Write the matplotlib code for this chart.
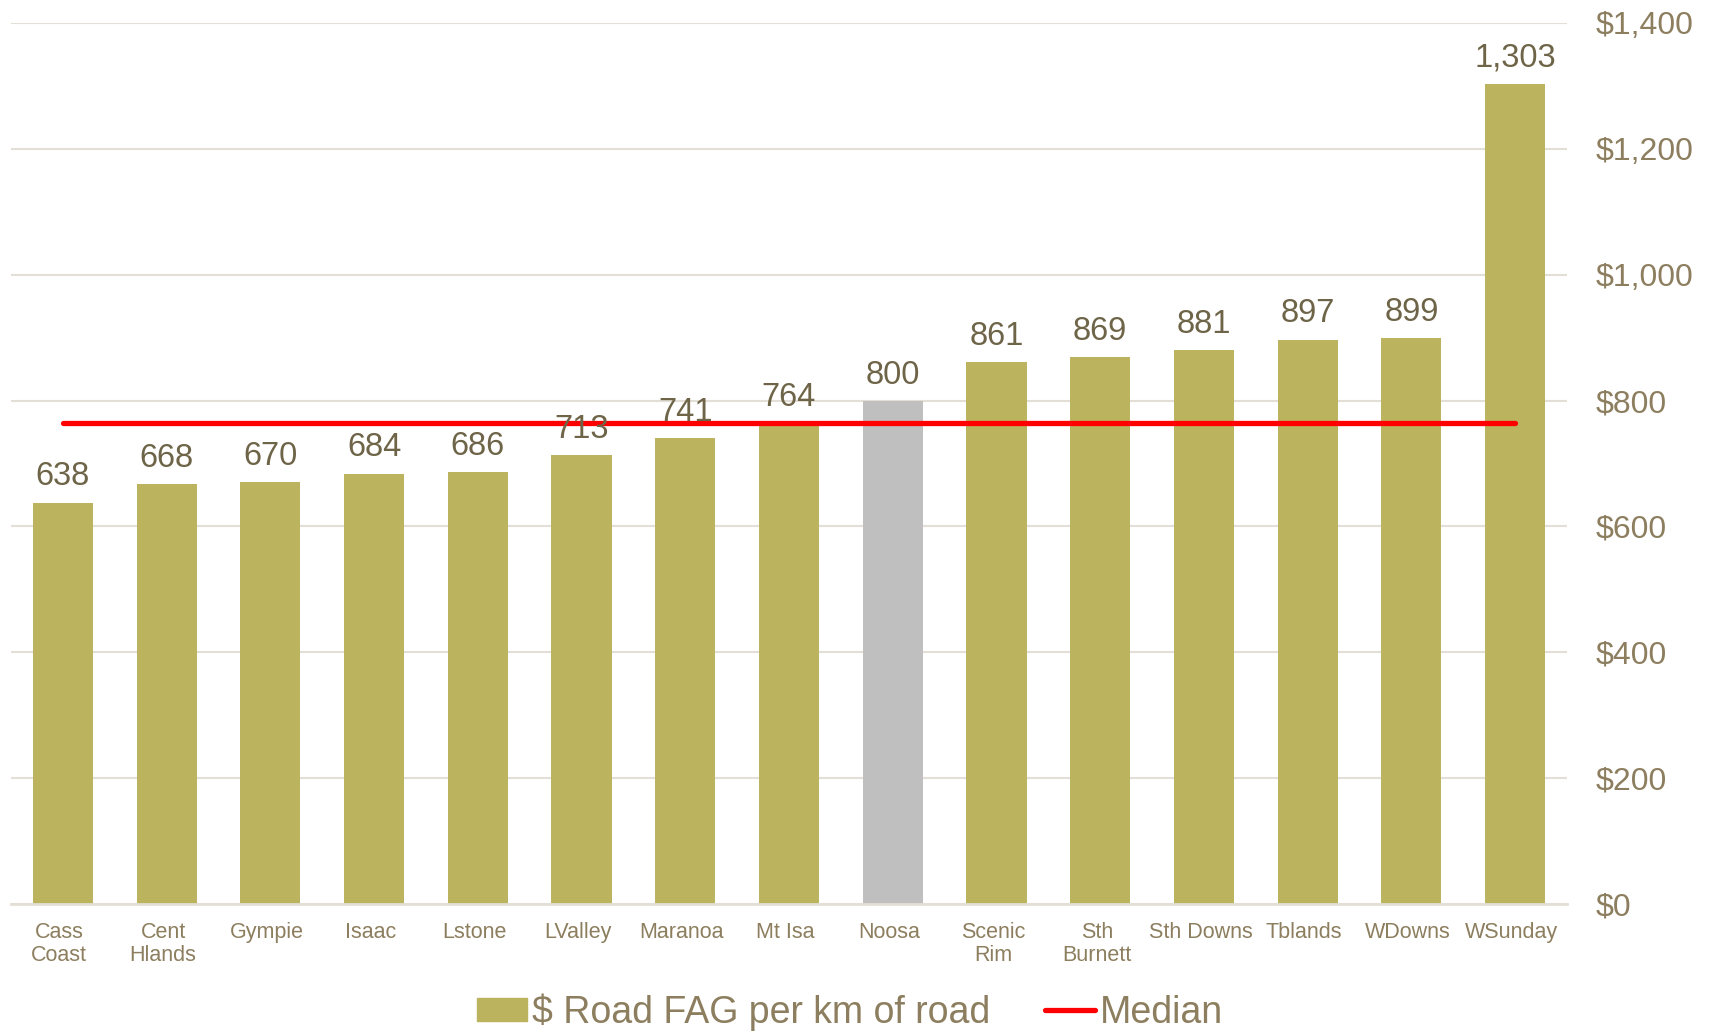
import numpy as np
import matplotlib.pyplot as plt
import matplotlib.transforms as mtransforms
from matplotlib.ticker import FuncFormatter
from matplotlib.patches import Patch
from matplotlib.lines import Line2D

plt.rcParams['font.family'] = ['Liberation Sans', 'DejaVu Sans']

councils = ['Cass\nCoast', 'Cent\nHlands', 'Gympie', 'Isaac', 'Lstone', 'LValley', 'Maranoa',
            'Mt Isa', 'Noosa', 'Scenic\nRim', 'Sth\nBurnett', 'Sth Downs', 'Tblands', 'WDowns', 'WSunday']
fag_per_km = [638, 668, 670, 684, 686, 713, 741, 764, 800, 861, 869, 881, 897, 899, 1303]
median_val = 764
highlight = 'Noosa'

olive = '#BBB35E'
grey = '#BFBFBF'
txt = '#8C7E5E'
lbl = '#6E6448'

fig = plt.figure(figsize=(17.1, 10.31), dpi=100)
ax = fig.add_axes([11/1710, 1-904/1031, (1567-11)/1710, (904-23)/1031])

x = np.arange(len(councils))
colors = [grey if c == highlight else olive for c in councils]
ax.bar(x, fag_per_km, width=0.58, color=colors, zorder=2)
ax.plot([x[0], x[-1]], [median_val, median_val], color='#FF0000', lw=3.8, solid_capstyle='round', zorder=3)

for xi, v in zip(x, fag_per_km):
    ax.text(xi, v + 16, f'{v:,}', ha='center', va='bottom', fontsize=23.5, color=lbl, zorder=4)

ax.set_xlim(-0.5, len(councils) - 0.5)
ax.set_ylim(0, 1400)
ax.set_yticks(range(0, 1401, 200))
ax.yaxis.set_major_formatter(FuncFormatter(lambda v, p: f'${int(v):,}'))
ax.yaxis.tick_right()
ax.tick_params(axis='y', length=0, labelsize=23, labelcolor=txt, pad=20.5)
ax.set_xticks(x)
ax.set_xticklabels(councils, fontsize=15.5, color=txt, linespacing=1.15)
ax.tick_params(axis='x', length=0, pad=13)
shift = mtransforms.ScaledTranslation(-0.035, 0, fig.dpi_scale_trans)
for t in ax.get_xticklabels():
    t.set_transform(t.get_transform() + shift)
ax.grid(axis='y', color='#E3DFD6', lw=1.5, zorder=0)
for s in ['top', 'left', 'right']:
    ax.spines[s].set_visible(False)
ax.spines['bottom'].set_color('#E3DFD6')
ax.spines['bottom'].set_linewidth(2)

handles = [Patch(color=olive), Line2D([], [], color='#FF0000', lw=3.8, solid_capstyle='round')]
leg = fig.legend(handles, ['$ Road FAG per km of road', 'Median'], loc='center',
                 bbox_to_anchor=(850/1710, 1-1012/1031), ncol=2, frameon=False,
                 fontsize=27, handlelength=1.33, handleheight=0.55, columnspacing=1.45, handletextpad=0.15)
for t in leg.get_texts():
    t.set_color(txt)

fig.savefig('out.png', dpi=100, facecolor='white')
